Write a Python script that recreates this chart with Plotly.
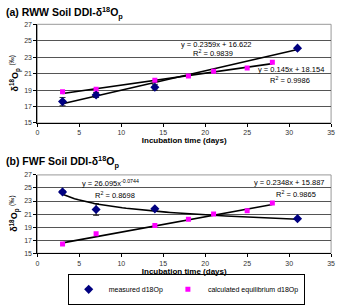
import numpy as np
import plotly.graph_objects as go

# ---------------- data ----------------
# Panel (a) RWW soil
a_meas_x = [3, 7, 14, 31]
a_meas_y = [17.6, 18.4, 19.35, 24.1]
a_meas_err = [0.5, 0.3, 0.35, 0.0]
a_calc_x = [3, 7, 14, 18, 21, 25, 28]
a_calc_y = [18.8, 19.1, 20.2, 20.7, 21.3, 21.7, 22.4]
a_fit_meas = (0.2359, 16.622)   # linear slope, intercept
a_fit_calc = (0.145, 18.154)

# Panel (b) FWF soil
b_meas_x = [3, 7, 14, 31]
b_meas_y = [24.4, 21.7, 21.8, 20.3]
b_meas_err = [0.2, 0.9, 0.15, 0.0]
b_calc_x = [3, 7, 14, 18, 21, 25, 28]
b_calc_y = [16.4, 18.0, 19.25, 20.2, 21.0, 21.5, 22.7]
b_fit_meas = (26.095, -0.0744)  # power a*x^b
b_fit_calc = (0.2348, 15.887)

x_ticks = [0, 5, 10, 15, 20, 25, 30, 35]
y_ticks = [15, 17, 19, 21, 23, 25, 27]

FONT = "Liberation Sans, Arial, sans-serif"
NAVY = "#000080"
MAG = "#ff00ff"

fig = go.Figure()

def fitline(xs, coef, kind):
    xx = np.linspace(min(xs), max(xs), 60)
    if kind == "lin":
        yy = coef[0] * xx + coef[1]
    else:
        yy = coef[0] * xx ** coef[1]
    return xx, yy

# Panel (a)
for xs, coef, kind in [(a_meas_x, a_fit_meas, "lin"), (a_calc_x, a_fit_calc, "lin")]:
    xx, yy = fitline(xs, coef, kind)
    fig.add_trace(go.Scatter(x=xx, y=yy, mode="lines", line=dict(color="black", width=1.6),
                             showlegend=False, xaxis="x", yaxis="y", hoverinfo="skip"))
fig.add_trace(go.Scatter(x=a_calc_x, y=a_calc_y, mode="markers",
                         marker=dict(symbol="square", size=5, color=MAG),
                         showlegend=False, xaxis="x", yaxis="y"))
fig.add_trace(go.Scatter(x=a_meas_x, y=a_meas_y, mode="markers",
                         marker=dict(symbol="diamond", size=7, color=NAVY),
                         error_y=dict(type="data", array=a_meas_err, color="black", thickness=0.8, width=3),
                         showlegend=False, xaxis="x", yaxis="y"))

# Panel (b)
for xs, coef, kind in [(b_meas_x, b_fit_meas, "pow"), (b_calc_x, b_fit_calc, "lin")]:
    xx, yy = fitline(xs, coef, kind)
    fig.add_trace(go.Scatter(x=xx, y=yy, mode="lines", line=dict(color="black", width=1.6),
                             showlegend=False, xaxis="x2", yaxis="y2", hoverinfo="skip"))
fig.add_trace(go.Scatter(x=b_meas_x, y=b_meas_y, mode="markers", name="measured d18Op",
                         marker=dict(symbol="diamond", size=7, color=NAVY),
                         error_y=dict(type="data", array=b_meas_err, color="black", thickness=0.8, width=3),
                         showlegend=True, xaxis="x2", yaxis="y2"))
fig.add_trace(go.Scatter(x=b_calc_x, y=b_calc_y, mode="markers", name="calculated equilibrium d18Op",
                         marker=dict(symbol="square", size=5, color=MAG),
                         showlegend=True, xaxis="x2", yaxis="y2"))

W, H = 340, 305
xdom = [36 / W, 335 / W]
ya_dom = [1 - 123 / H, 1 - 21 / H]
yb_dom = [1 - 257.7 / H, 1 - 176.7 / H]

xax = dict(range=[0, 35], tickvals=x_ticks, showgrid=False, zeroline=False,
           showline=True, linecolor="black", linewidth=1, mirror=False,
           ticks="outside", ticklen=3, tickcolor="black",
           tickfont=dict(size=7, color="#333333", family=FONT), domain=xdom,
           title=dict(text="<b>Incubation time (days)</b>", font=dict(size=8, family=FONT, color="black"), standoff=2))
yax = dict(range=[15, 27], tickvals=y_ticks, showgrid=True, gridcolor="#555555", gridwidth=1,
           zeroline=False, showline=True, linecolor="black", linewidth=1,
           ticks="outside", ticklen=3, tickcolor="black",
           tickfont=dict(size=7, color="#333333", family=FONT))

fig.update_layout(
    width=W, height=H, margin=dict(l=0, r=0, t=0, b=0),
    paper_bgcolor="white", plot_bgcolor="white",
    font=dict(family=FONT, color="black"),
    xaxis=dict(**xax, anchor="y"),
    yaxis=dict(**yax, domain=ya_dom, anchor="x"),
    xaxis2=dict(**xax, anchor="y2"),
    yaxis2=dict(**yax, domain=yb_dom, anchor="x2"),
    legend=dict(orientation="h", x=187.5 / W, xanchor="center", y=1 - 295 / H, yanchor="middle",
                bordercolor="black", borderwidth=1, font=dict(size=7, family=FONT),
                itemwidth=30, tracegroupgap=0),
    showlegend=True,
)

# plot-area borders (gray top/right)
for dom in (ya_dom, yb_dom):
    fig.add_shape(type="rect", xref="paper", yref="paper", x0=xdom[0], x1=xdom[1], y0=dom[0], y1=dom[1],
                  line=dict(color="#999999", width=1), layer="below")

# titles
fig.add_annotation(text="<b>(a) RWW Soil DDI-δ<sup>18</sup>O<sub>p</sub></b>", xref="paper", yref="paper",
                   x=2 / W, y=1 - 9 / H, xanchor="left", yanchor="middle", showarrow=False,
                   font=dict(size=10.5, family=FONT))
fig.add_annotation(text="<b>(b) FWF Soil DDI-δ<sup>18</sup>O<sub>p</sub></b>", xref="paper", yref="paper",
                   x=2 / W, y=1 - 163 / H, xanchor="left", yanchor="middle", showarrow=False,
                   font=dict(size=10.5, family=FONT))

# y-axis titles
for dom in (ya_dom, yb_dom):
    fig.add_annotation(text="<b>δ<sup>18</sup>O<sub>p</sub></b> <sup>(‰)</sup>", xref="paper", yref="paper",
                       x=13 / W, y=(dom[0] + dom[1]) / 2, xanchor="center", yanchor="middle",
                       textangle=-90, showarrow=False, font=dict(size=9, family=FONT))

# equations
eqs = [
    ("x", "y", 21.26, 24.5, "y = 0.2359x + 16.622"),
    ("x", "y", 20.9, 23.5, "R<sup>2</sup> = 0.9839"),
    ("x", "y", 30.2, 21.5, "y = 0.145x + 18.154"),
    ("x", "y", 30.1, 20.2, "R<sup>2</sup> = 0.9986"),
    ("x2", "y2", 8.7, 25.75, "y = 26.095x<sup>-0.0744</sup>"),
    ("x2", "y2", 9.2, 23.95, "R<sup>2</sup> = 0.8698"),
    ("x2", "y2", 29.95, 25.9, "y = 0.2348x + 15.887"),
    ("x2", "y2", 30.8, 24.0, "R<sup>2</sup> = 0.9865"),
]
for xr, yr, x, y, t in eqs:
    fig.add_annotation(text=t, xref=xr, yref=yr, x=x, y=y, showarrow=False,
                       xanchor="center", yanchor="middle", bgcolor="rgba(0,0,0,0)",
                       font=dict(size=7.5, family=FONT, color="black"))

fig.write_html("out.html")
